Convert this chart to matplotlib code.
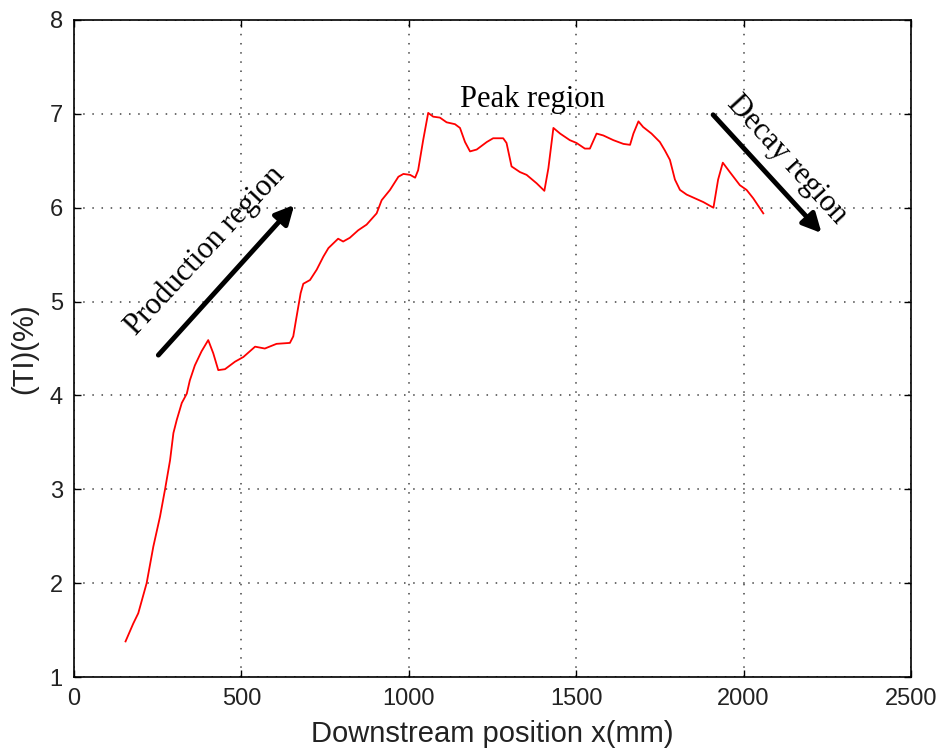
import numpy as np
import matplotlib
matplotlib.use("Agg")
import matplotlib.pyplot as plt

# turbulence intensity along the downstream direction
x_mm = [154, 177, 192, 217, 237, 257, 272, 287, 297, 307, 322, 337, 346, 361,
        381, 401, 416, 431, 451, 481, 506, 541, 570, 605, 645, 655, 663, 677,
        685, 705, 725, 745, 760, 789, 804, 824, 849, 874, 904, 919, 944, 969,
        984, 1004, 1019, 1028, 1043, 1058, 1073, 1093, 1113, 1138, 1153, 1168,
        1183, 1203, 1233, 1252, 1282, 1292, 1307, 1332, 1352, 1382, 1405, 1417,
        1432, 1452, 1481, 1501, 1526, 1541, 1561, 1581, 1611, 1641, 1661, 1671,
        1686, 1700, 1725, 1750, 1765, 1780, 1795, 1810, 1830, 1855, 1880, 1910,
        1924, 1938, 1959, 1989, 2009, 2029, 2059]
ti_pct = [1.38, 1.57, 1.68, 2.00, 2.39, 2.71, 3.00, 3.31, 3.60, 3.74, 3.92, 4.02,
          4.16, 4.32, 4.47, 4.59, 4.45, 4.27, 4.28, 4.36, 4.41, 4.52, 4.50, 4.55,
          4.56, 4.63, 4.80, 5.09, 5.19, 5.23, 5.34, 5.48, 5.57, 5.67, 5.64, 5.68,
          5.76, 5.82, 5.94, 6.08, 6.19, 6.33, 6.36, 6.35, 6.32, 6.40, 6.72, 7.01,
          6.97, 6.96, 6.91, 6.89, 6.85, 6.70, 6.60, 6.62, 6.70, 6.74, 6.74, 6.69,
          6.44, 6.38, 6.35, 6.26, 6.18, 6.42, 6.85, 6.79, 6.72, 6.69, 6.63, 6.63,
          6.79, 6.77, 6.72, 6.68, 6.67, 6.79, 6.92, 6.86, 6.79, 6.70, 6.61, 6.51,
          6.30, 6.19, 6.14, 6.10, 6.06, 6.00, 6.30, 6.48, 6.38, 6.24, 6.19, 6.10,
          5.94]

x_ticks = [0, 500, 1000, 1500, 2000, 2500]
y_ticks = [1, 2, 3, 4, 5, 6, 7, 8]

fig = plt.figure(figsize=(9.4, 7.54), dpi=100)
ax = fig.add_axes([0.0787, 0.102, 0.8904, 0.8715])

ax.plot(x_mm, ti_pct, color="red", lw=1.3)

ax.set_xlim(0, 2500)
ax.set_ylim(1, 8)
ax.set_xticks(x_ticks)
ax.set_yticks(y_ticks)
ax.grid(True, color="#444444", linestyle=(0, (1, 5)), linewidth=1.1)
ax.tick_params(direction="in", length=5, width=1, top=True, right=True,
               labelsize=17, pad=8, labelcolor="#222222")
for lab in ax.get_xticklabels() + ax.get_yticklabels():
    lab.set_family("Liberation Sans")
for sp in ax.spines.values():
    sp.set_linewidth(1.2)

ax.set_xlabel("Downstream position x(mm)", fontsize=21, color="#222222",
              family="Liberation Sans", labelpad=7)
ax.set_ylabel("(TI)(%)", fontsize=21, color="#222222",
              family="Liberation Sans", labelpad=8)

serif = "Liberation Serif"
arrow = dict(arrowstyle="-|>", lw=3.5, color="black", mutation_scale=28,
             shrinkA=0, shrinkB=0)

ax.annotate("", xy=(658, 6.03), xytext=(252, 4.43), arrowprops=arrow)
ax.text(391, 5.54, "Production region", fontsize=22, family=serif,
        rotation=47, rotation_mode="anchor", ha="center", va="center")

ax.text(1368, 7.15, "Peak region", fontsize=22, family=serif,
        ha="center", va="center")

ax.annotate("", xy=(2233, 5.73), xytext=(1909, 6.99), arrowprops=arrow)
ax.text(2130, 6.51, "Decay region", fontsize=22, family=serif,
        rotation=-47.5, rotation_mode="anchor", ha="center", va="center")

fig.savefig("out.png", dpi=100)
